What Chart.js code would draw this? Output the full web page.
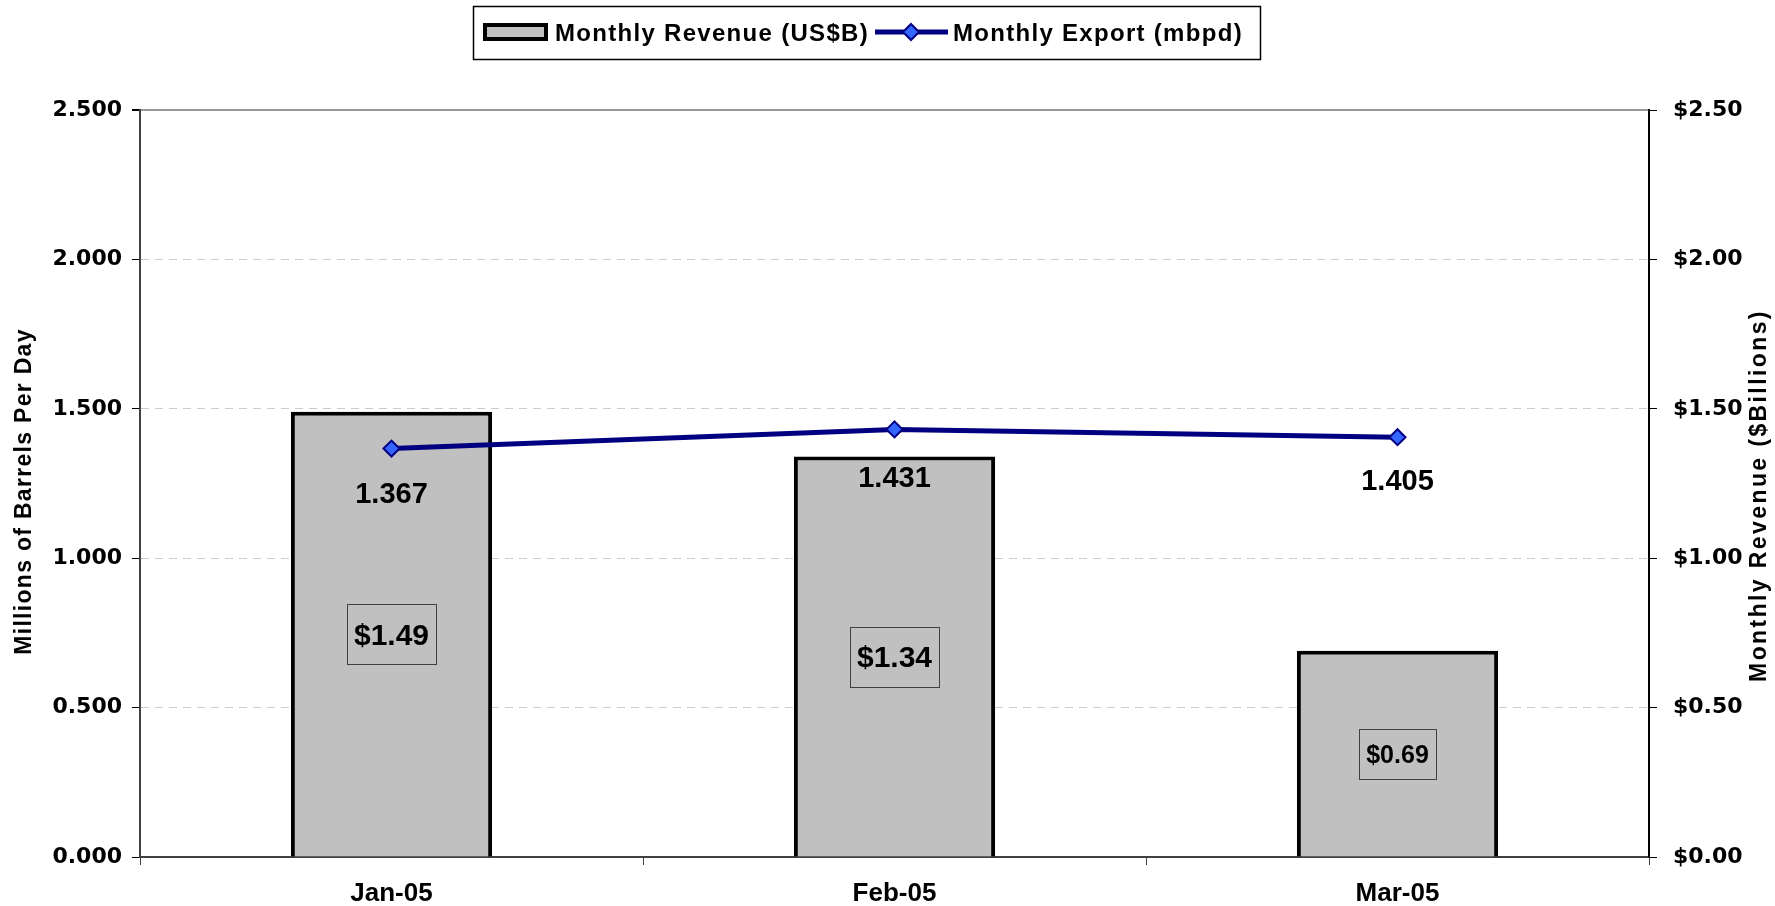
<!DOCTYPE html>
<html>
<head>
<meta charset="utf-8">
<script src="https://cdn.jsdelivr.net/npm/chart.js@4.4.0/dist/chart.umd.min.js"></script>
<style>
  html, body { margin: 0; padding: 0; background: #fff; }
  #wrap { width: 1775px; height: 906px; }
</style>
</head>
<body>
<div id="wrap"><canvas id="myChart" width="1775" height="906"></canvas></div>
<script>
const months = ['Jan-05', 'Feb-05', 'Mar-05']
const revenue = [1.49, 1.34, 0.69]          // US$ billions (right axis)
const exportMbpd = [1.367, 1.431, 1.405]    // million barrels per day (left axis)
const revenueLabels = ['$1.49', '$1.34', '$0.69']
const exportLabels = ['1.367', '1.431', '1.405']

const BOLD = 'bold '
const SANS = '"Liberation Sans", Arial, sans-serif'

// data labels, legend and the two rotated axis titles
const extras = {
    id: 'extras',
    afterDatasetsDraw(chart) {
        const ctx = chart.ctx
        ctx.save()
        ctx.fillStyle = '#000'
        ctx.textAlign = 'center'
        ctx.textBaseline = 'alphabetic'

        // line labels under the points
        const lineMeta = chart.getDatasetMeta(0)
        const drop = [54, 58, 53]
        ctx.font = BOLD + '29px ' + SANS
        lineMeta.data.forEach((pt, i) => {
            ctx.fillText(exportLabels[i], pt.x, pt.y + drop[i])
        })

        // boxed labels in the middle of the bars
        const barMeta = chart.getDatasetMeta(1)
        const sizes = [30, 30, 25]
        barMeta.data.forEach((bar, i) => {
            const cy = (bar.y + bar.base) / 2
            ctx.font = BOLD + sizes[i] + 'px ' + SANS
            const tw = ctx.measureText(revenueLabels[i]).width
            const w = tw + 14, h = sizes[i] * 2.0
            ctx.strokeStyle = '#404040'
            ctx.lineWidth = 1
            ctx.strokeRect(Math.round(bar.x - w / 2) + 0.5, Math.round(cy - h / 2) + 0.5, Math.round(w), Math.round(h))
            ctx.fillText(revenueLabels[i], bar.x, cy + sizes[i] * 0.36)
        })
        ctx.restore()
    },
    afterDraw(chart) {
        const ctx = chart.ctx
        const area = chart.chartArea
        const midY = (area.top + area.bottom) / 2
        ctx.save()
        ctx.fillStyle = '#000'
        ctx.textAlign = 'center'
        ctx.textBaseline = 'middle'

        ctx.save()
        ctx.font = BOLD + '23px ' + SANS
        ctx.letterSpacing = '1.3px'
        ctx.translate(25, midY + 8)
        ctx.rotate(-Math.PI / 2)
        ctx.fillText('Millions of Barrels Per Day', 0, 0)
        ctx.restore()

        ctx.save()
        ctx.font = BOLD + '23px ' + SANS
        ctx.letterSpacing = '2.4px'
        ctx.translate(1760, midY + 12)
        ctx.rotate(-Math.PI / 2)
        ctx.fillText('Monthly Revenue ($Billions)', 0, 0)
        ctx.restore()

        // legend
        const bar = chart.data.datasets[1], line = chart.data.datasets[0]
        ctx.strokeStyle = '#000'
        ctx.lineWidth = 1.5
        ctx.strokeRect(473.5, 6.5, 787, 53)

        ctx.fillStyle = bar.backgroundColor
        ctx.fillRect(485, 25, 61, 14)
        ctx.lineWidth = 4
        ctx.strokeRect(485, 25, 61, 14)

        ctx.strokeStyle = line.borderColor
        ctx.lineWidth = 5
        ctx.beginPath()
        ctx.moveTo(875, 32)
        ctx.lineTo(948, 32)
        ctx.stroke()
        ctx.beginPath()
        ctx.moveTo(911, 24); ctx.lineTo(919, 32); ctx.lineTo(911, 40); ctx.lineTo(903, 32); ctx.closePath()
        ctx.fillStyle = line.pointBackgroundColor
        ctx.fill()
        ctx.lineWidth = 2
        ctx.stroke()

        ctx.fillStyle = '#000'
        ctx.textAlign = 'left'
        ctx.textBaseline = 'alphabetic'
        ctx.font = BOLD + '24px ' + SANS
        ctx.letterSpacing = '1.3px'
        ctx.fillText(bar.label, 555, 41)
        ctx.fillText(line.label, 953, 41)
        ctx.restore()
    }
}

const ctx = document.getElementById('myChart').getContext('2d')

new Chart(ctx, {
    type: 'bar',
    data: {
        labels: months,
        datasets: [{
            type: 'line',
            label: 'Monthly Export (mbpd)',
            data: exportMbpd,
            yAxisID: 'y',
            borderColor: '#000080',
            borderWidth: 5,
            pointStyle: 'rectRot',
            pointRadius: 8,
            pointBackgroundColor: '#3366ff',
            pointBorderColor: '#000080',
            pointBorderWidth: 2,
            tension: 0,
            order: 0
        }, {
            type: 'bar',
            label: 'Monthly Revenue (US$B)',
            data: revenue,
            yAxisID: 'y1',
            backgroundColor: '#c0c0c0',
            borderColor: '#000',
            borderWidth: 4,
            barPercentage: 0.4,
            categoryPercentage: 1,
            order: 1
        }]
    },
    options: {
        responsive: false,
        animation: false,
        layout: { padding: { top: 110 } },
        plugins: {
            legend: { display: false },
            tooltip: { enabled: false }
        },
        scales: {
            x: {
                grid: { offset: true, drawOnChartArea: false, tickLength: 8, color: '#404040' },
                border: { color: '#404040', width: 2 },
                ticks: { color: '#000', padding: 13, font: { family: SANS, weight: 'bold', size: 26 } },
                afterFit(scale) { scale.height = 49 }
            },
            y: {
                position: 'left',
                min: 0,
                max: 2.5,
                ticks: {
                    stepSize: 0.5,
                    color: '#000',
                    padding: 10,
                    font: { family: '"DejaVu Sans", Verdana, sans-serif', weight: 'bold', size: 22 },
                    callback: v => v.toFixed(3)
                },
                grid: {
                    tickLength: 8,
                    tickColor: '#000',
                    color: c => (c.tick && c.tick.value === 2.5) ? '#999' : '#cccccc',
                    lineWidth: c => (c.tick && c.tick.value === 2.5) ? 2 : 1
                },
                border: {
                    color: '#404040',
                    width: 2,
                    dash: c => (c.tick && c.tick.value > 0 && c.tick.value < 2.5) ? [8, 6] : []
                },
                afterFit(scale) { scale.width = 140 }
            },
            y1: {
                position: 'right',
                min: 0,
                max: 2.5,
                ticks: {
                    stepSize: 0.5,
                    color: '#000',
                    padding: 16,
                    font: { family: '"DejaVu Sans", Verdana, sans-serif', weight: 'bold', size: 22 },
                    callback: v => '$' + v.toFixed(2)
                },
                grid: { drawOnChartArea: false, tickLength: 8, color: '#000' },
                border: { color: '#000', width: 2 },
                afterFit(scale) { scale.width = 126 }
            }
        }
    },
    plugins: [extras]
})
</script>
</body>
</html>
